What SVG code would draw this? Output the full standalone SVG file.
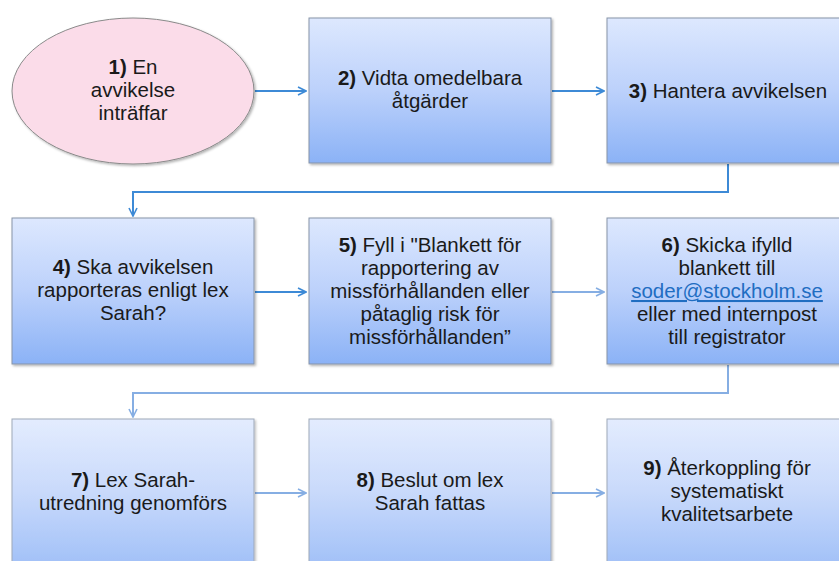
<svg xmlns="http://www.w3.org/2000/svg" width="839" height="561" viewBox="0 0 839 561">
<defs>
<linearGradient id="g" x1="0" y1="0" x2="0" y2="1">
<stop offset="0" stop-color="#dde8fe"/>
<stop offset="0.5" stop-color="#bcd1fb"/>
<stop offset="1" stop-color="#8bb2f6"/>
</linearGradient>
<filter id="sh" x="-5%" y="-5%" width="112%" height="112%">
<feDropShadow dx="1.5" dy="1.5" stdDeviation="1.2" flood-color="#000" flood-opacity="0.3"/>
</filter>
<marker id="ah" viewBox="0 0 10 10" refX="9" refY="5" markerWidth="10" markerHeight="10" markerUnits="userSpaceOnUse" orient="auto">
<path d="M1,1 L9,5 L1,9" fill="none" stroke="#3d8ad6" stroke-width="1.6"/>
</marker>
<marker id="ah2" viewBox="0 0 10 10" refX="9" refY="5" markerWidth="10" markerHeight="10" markerUnits="userSpaceOnUse" orient="auto">
<path d="M1,1 L9,5 L1,9" fill="none" stroke="#86aee3" stroke-width="1.6"/>
</marker>
</defs>
<style>
.box{fill:url(#g);stroke:#8794a8;stroke-width:1;filter:url(#sh)}
.faded{opacity:0.8}
.t{font-family:"Liberation Sans",Arial,sans-serif;font-size:20.5px;fill:#1a1a1a;text-anchor:middle}
.b{font-weight:bold}
.link{fill:#1f6dc2;text-decoration:underline}
.c{fill:none;stroke:#3d8ad6;stroke-width:2}
.c2{fill:none;stroke:#86aee3;stroke-width:2}
</style>
<rect width="839" height="561" fill="#ffffff"/>

<g id="connectors">
<path class="c" d="M255,91 H306" marker-end="url(#ah)"/>
<path class="c" d="M552,91 H604" marker-end="url(#ah)"/>
<path class="c" d="M728,164 V192 H133 V216" marker-end="url(#ah)"/>
<path class="c" d="M255,292 H306" marker-end="url(#ah)"/>
<path class="c2" d="M552,292 H604" marker-end="url(#ah2)"/>
<path class="c2" d="M728,365 V393 H133 V417" marker-end="url(#ah2)"/>
<path class="c2" d="M255,493 H306" marker-end="url(#ah2)"/>
<path class="c2" d="M552,493 H604" marker-end="url(#ah2)"/>
</g>

<g id="n1">
<ellipse cx="133" cy="91" rx="121" ry="73" fill="#fbdce9" stroke="#8a8a8a" stroke-width="1" filter="url(#sh)"/>
<text class="t" x="133" y="74"><tspan class="b">1)</tspan> En</text>
<text class="t" x="133" y="97">avvikelse</text>
<text class="t" x="133" y="120">inträffar</text>
</g>

<g id="n2">
<rect class="box" x="309" y="18" width="242" height="145"/>
<text class="t" x="430" y="85"><tspan class="b">2)</tspan> Vidta omedelbara</text>
<text class="t" x="430" y="108">åtgärder</text>
</g>

<g id="n3">
<rect class="box" x="607" y="18" width="242" height="145"/>
<text class="t" x="728" y="98"><tspan class="b">3)</tspan> Hantera avvikelsen</text>
</g>

<g id="n4">
<rect class="box" x="12" y="218" width="242" height="146"/>
<text class="t" x="133" y="274"><tspan class="b">4)</tspan> Ska avvikelsen</text>
<text class="t" x="133" y="297">rapporteras enligt lex</text>
<text class="t" x="133" y="320">Sarah?</text>
</g>

<g id="n5">
<rect class="box" x="309" y="218" width="242" height="146"/>
<text class="t" x="430" y="252"><tspan class="b">5)</tspan> Fyll i "Blankett för</text>
<text class="t" x="430" y="275">rapportering av</text>
<text class="t" x="430" y="298">missförhållanden eller</text>
<text class="t" x="430" y="321">påtaglig risk för</text>
<text class="t" x="430" y="344">missförhållanden”</text>
</g>

<g id="n6">
<rect class="box" x="607" y="218" width="242" height="146"/>
<text class="t" x="727" y="252"><tspan class="b">6)</tspan> Skicka ifylld</text>
<text class="t" x="727" y="275">blankett till</text>
<text class="t link" x="727" y="298">soder@stockholm.se</text>
<text class="t" x="727" y="321">eller med internpost</text>
<text class="t" x="727" y="344">till registrator</text>
</g>

<g id="n7">
<rect class="box faded" x="12" y="419" width="242" height="146"/>
<text class="t" x="133" y="487"><tspan class="b">7)</tspan> Lex Sarah-</text>
<text class="t" x="133" y="510">utredning genomförs</text>
</g>

<g id="n8">
<rect class="box faded" x="309" y="419" width="242" height="146"/>
<text class="t" x="430" y="487"><tspan class="b">8)</tspan> Beslut om lex</text>
<text class="t" x="430" y="510">Sarah fattas</text>
</g>

<g id="n9">
<rect class="box faded" x="607" y="419" width="242" height="146"/>
<text class="t" x="727" y="475"><tspan class="b">9)</tspan> Återkoppling för</text>
<text class="t" x="727" y="498">systematiskt</text>
<text class="t" x="727" y="521">kvalitetsarbete</text>
</g>
</svg>
